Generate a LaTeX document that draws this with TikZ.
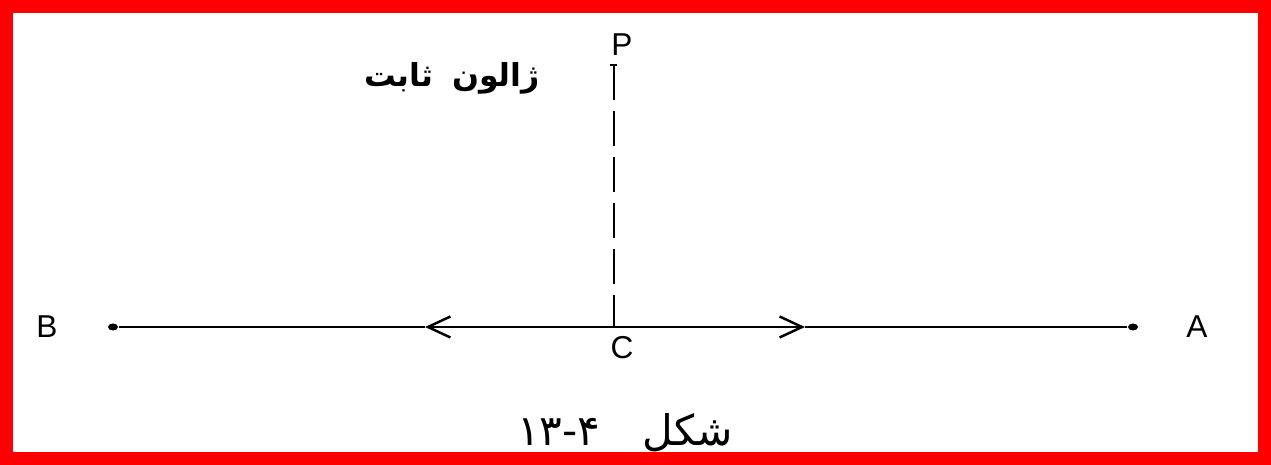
\documentclass[tikz,border=0pt]{standalone}
\usepackage{fontspec}
\setmainfont{Liberation Sans}
\newfontfamily\arabicfont[Script=Arabic]{DejaVu Sans}
\TeXXeTstate=1
\usetikzlibrary{arrows.meta, shapes.geometric}

\begin{document}
\begin{tikzpicture}[
  pt/.style={ellipse, fill=black, inner sep=0pt, minimum width=2mm, minimum height=1.4mm},
  lbl/.style={font=\fontsize{18}{20}\selectfont},
  barb/.style={-{Straight Barb[length=4.5mm, width=4.2mm, line width=1.4pt]}},
  line width=0.9pt
]
\useasboundingbox (-12.28,-2.76) rectangle (13.14,6.54);
\draw[red, line width=0.26cm] (-12.15,-2.63) rectangle (13.01,6.41);
\coordinate (c) at (0,0);
\coordinate (p) at (0,5.24);
\node[pt] (b) at (-10.02,0) {};
\node[pt] (a) at (10.38,0) {};
\coordinate (bm) at (-3.78,0);
\coordinate (am) at (3.82,0);
\node[lbl] (bl) at (-11.34,0) {B};
\node[lbl] (al) at (11.66,0) {A};
\node[lbl] (cl) at (0.16,-0.42) {C};
\node[lbl] (pl) at (0.16,5.64) {P};
\node[font=\arabicfont\bfseries\fontsize{18}{20}\selectfont] (jalon) at (-3.24,4.98) {\beginR ژالون\hspace{0.6em}ثابت\endR};
\node[font=\arabicfont\fontsize{24}{26}\selectfont] (cap) at (0.22,-2.12) {\beginR شکل\hspace{1em}\beginL ۱۳-۴\endL\endR};
% the line BA with its two arrows
\draw[barb] (c) -- (bm);
\draw (bm) -- (b);
\draw[barb] (c) -- (am);
\draw (am) -- (a);
% pole at C
\draw[line width=1.7pt, dash pattern=on 0.7cm off 0.22cm] (p) -- (c);
\draw[line width=1.4pt] ([xshift=-0.07cm]p) -- ([xshift=0.07cm]p);
\end{tikzpicture}
\end{document}
